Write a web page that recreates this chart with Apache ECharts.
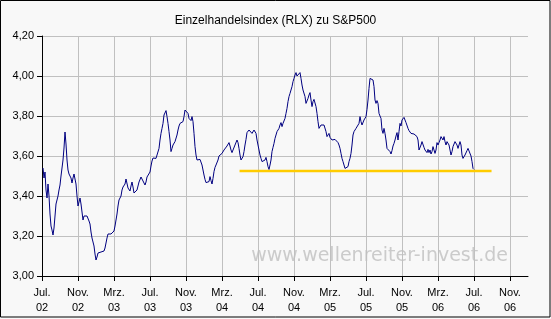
<!DOCTYPE html>
<html>
<head>
<meta charset="utf-8">
<script src="https://cdn.jsdelivr.net/npm/echarts@6/dist/echarts.min.js"></script>
<style>
html,body{margin:0;padding:0;background:#f8f8f8;}
#chart{width:551px;height:319px;}
</style>
</head>
<body>
<div id="chart"></div>
<script>
// Tick labels of the time axis (every 4 months starting Jul. 2002)
const tickMonths = [0, 4, 8, 12, 16, 20, 24, 28, 32, 36, 40, 44, 48, 52];
const tickLabels = ['Jul.\n02', 'Nov.\n02', 'Mrz.\n03', 'Jul.\n03', 'Nov.\n03', 'Mrz.\n04', 'Jul.\n04',
                    'Nov.\n04', 'Mrz.\n05', 'Jul.\n05', 'Nov.\n05', 'Mrz.\n06', 'Jul.\n06', 'Nov.\n06'];

// RLX / S&P500 ratio, sampled at regular steps from Jul. 2002 to Jul. 2006
const sampleStartMonth = 1 / 9;
const sampleStepMonth = 1 / 9;
const ratioValues = [
  3.54, 3.49, 3.52, 3.43, 3.39, 3.46, 3.40, 3.31, 3.25, 3.23,
  3.205, 3.24, 3.30, 3.36, 3.38, 3.40, 3.43, 3.455, 3.50, 3.54,
  3.58, 3.64, 3.72, 3.66, 3.58, 3.53, 3.51, 3.50, 3.49, 3.465,
  3.49, 3.51, 3.515, 3.46, 3.40, 3.35, 3.36, 3.39, 3.36, 3.32,
  3.28, 3.30, 3.30, 3.31, 3.30, 3.29, 3.275, 3.26, 3.22, 3.19,
  3.17, 3.15, 3.11, 3.08, 3.095, 3.115, 3.12, 3.12, 3.12, 3.117,
  3.113, 3.125, 3.14, 3.165, 3.19, 3.21, 3.21, 3.21, 3.21, 3.21,
  3.215, 3.225, 3.25, 3.28, 3.31, 3.35, 3.38, 3.385, 3.40, 3.43,
  3.445, 3.447, 3.46, 3.485, 3.475, 3.44, 3.43, 3.425, 3.45, 3.47,
  3.445, 3.415, 3.41, 3.41, 3.43, 3.45, 3.47, 3.48, 3.495, 3.49,
  3.475, 3.465, 3.455, 3.47, 3.495, 3.505, 3.505, 3.52, 3.55, 3.575,
  3.59, 3.597, 3.592, 3.588, 3.583, 3.597, 3.638, 3.68, 3.713, 3.738,
  3.763, 3.805, 3.813, 3.827, 3.797, 3.763, 3.722, 3.68, 3.622, 3.638,
  3.655, 3.663, 3.672, 3.68, 3.705, 3.73, 3.75, 3.763, 3.767, 3.767,
  3.772, 3.797, 3.83, 3.838, 3.833, 3.813, 3.788, 3.78, 3.777, 3.797,
  3.772, 3.713, 3.647, 3.605, 3.58, 3.577, 3.58, 3.583, 3.577, 3.555,
  3.53, 3.505, 3.483, 3.467, 3.458, 3.458, 3.472, 3.497, 3.477, 3.46,
  3.488, 3.522, 3.543, 3.555, 3.563, 3.58, 3.60, 3.608, 3.61, 3.613,
  3.622, 3.63, 3.633, 3.638, 3.65, 3.66, 3.667, 3.65, 3.63, 3.617,
  3.63, 3.638, 3.655, 3.663, 3.68, 3.667, 3.638, 3.605, 3.58, 3.577,
  3.597, 3.622, 3.655, 3.683, 3.717, 3.727, 3.73, 3.727, 3.733, 3.713,
  3.722, 3.73, 3.733, 3.713, 3.68, 3.655, 3.63, 3.605, 3.588, 3.572,
  3.58, 3.572, 3.58, 3.593, 3.572, 3.547, 3.533, 3.555, 3.58, 3.622,
  3.643, 3.663, 3.688, 3.705, 3.722, 3.73, 3.738, 3.755, 3.767, 3.747,
  3.763, 3.772, 3.788, 3.813, 3.838, 3.872, 3.897, 3.913, 3.922, 3.947,
  3.972, 3.988, 4.005, 4.017, 4.00, 4.01, 3.997, 4.017, 3.988, 3.955,
  3.93, 3.922, 3.897, 3.863, 3.872, 3.888, 3.905, 3.917, 3.88, 3.847,
  3.872, 3.883, 3.888, 3.847, 3.813, 3.772, 3.738, 3.747, 3.755, 3.747,
  3.747, 3.755, 3.747, 3.722, 3.697, 3.70, 3.713, 3.693, 3.688, 3.68,
  3.68, 3.688, 3.683, 3.688, 3.68, 3.667, 3.655, 3.638, 3.613, 3.588,
  3.572, 3.555, 3.538, 3.533, 3.533, 3.547, 3.572, 3.588, 3.613, 3.655,
  3.705, 3.722, 3.73, 3.738, 3.738, 3.747, 3.763, 3.797, 3.772, 3.755,
  3.763, 3.78, 3.772, 3.797, 3.833, 3.88, 3.938, 3.988, 3.983, 3.983,
  3.98, 3.947, 3.88, 3.863, 3.877, 3.863, 3.813, 3.80, 3.788, 3.73,
  3.713, 3.738, 3.713, 3.68, 3.638, 3.633, 3.63, 3.622, 3.61, 3.627,
  3.65, 3.663, 3.68, 3.70, 3.717, 3.68, 3.722, 3.763, 3.75, 3.78,
  3.788, 3.793, 3.78, 3.767, 3.76, 3.738, 3.727, 3.722, 3.713, 3.722,
  3.713, 3.71, 3.713, 3.70, 3.697, 3.68, 3.63, 3.638, 3.655, 3.672,
  3.663, 3.643, 3.63, 3.633, 3.617, 3.633, 3.617, 3.63, 3.61, 3.622,
  3.647, 3.63, 3.613, 3.63, 3.667, 3.655, 3.667, 3.68, 3.697, 3.688,
  3.68, 3.697, 3.672, 3.655, 3.672, 3.68, 3.655, 3.63, 3.605, 3.622,
  3.647, 3.655, 3.672, 3.667, 3.655, 3.638, 3.647, 3.672, 3.655, 3.605,
  3.588, 3.593, 3.605, 3.613, 3.627, 3.638, 3.643, 3.63, 3.60, 3.572,
  3.538, 3.533
];

// Horizontal support line (yellow)
const supportMonths = [21.95, 49.95];
const supportLevel = [3.525, 3.525];

const ratioData = ratioValues.map((v, i) => [sampleStartMonth + i * sampleStepMonth, v]);
const supportData = supportMonths.map((m, i) => [m, supportLevel[i]]);

const chart = echarts.init(document.getElementById('chart'), null, {renderer: 'canvas'});
const FONT = '"Liberation Sans", Arial, sans-serif';
chart.setOption({
  animation: false,
  backgroundColor: '#f8f8f8',
  title: {
    text: 'Einzelhandelsindex (RLX) zu S&P500',
    left: 'center',
    top: 10,
    textStyle: {fontFamily: FONT, fontSize: 12, fontWeight: 'normal', color: '#000'}
  },
  graphic: [
    {
      type: 'text', z: -1, right: 43, top: 247,
      style: {text: 'www.wellenreiter-invest.de', font: '19px "DejaVu Sans", sans-serif', fill: '#cbcbcb'}
    },
    {
      type: 'rect', z: 100, silent: true,
      shape: {x: 0.5, y: 0.5, width: 549.5, height: 316.5},
      style: {fill: 'none', stroke: '#000', lineWidth: 1}
    }
  ],
  grid: {left: 42, top: 36, width: 486, height: 240, containLabel: false},
  xAxis: {
    type: 'value',
    min: 0, max: 54, interval: 4,
    axisLine: {lineStyle: {color: '#000', width: 1}},
    axisTick: {show: true, length: 5, lineStyle: {color: '#000'}, customValues: tickMonths},
    axisLabel: {
      margin: 9,
      fontFamily: FONT, fontSize: 11, color: '#000', lineHeight: 15,
      customValues: tickMonths,
      formatter: function (v) {
        const k = tickMonths.indexOf(Math.round(v));
        return k >= 0 ? tickLabels[k] : '';
      }
    },
    splitLine: {show: true, lineStyle: {color: '#c0c0c0', width: 1}}
  },
  yAxis: {
    type: 'value',
    min: 3.0, max: 4.2, interval: 0.2,
    axisLine: {show: true, lineStyle: {color: '#000', width: 1}},
    axisTick: {show: true, length: 5, lineStyle: {color: '#000'}},
    axisLabel: {
      margin: 8,
      fontFamily: FONT, fontSize: 11, color: '#000',
      formatter: function (v) { return v.toFixed(2).replace('.', ','); }
    },
    splitLine: {show: true, lineStyle: {color: '#c0c0c0', width: 1}}
  },
  series: [
    {
      type: 'line', data: supportData, symbol: 'none', silent: true,
      lineStyle: {color: '#ffcc00', width: 2.5}, z: 2
    },
    {
      type: 'line', data: ratioData, symbol: 'none', silent: true,
      lineStyle: {color: '#000080', width: 1}, z: 3
    }
  ]
});
</script>
</body>
</html>
